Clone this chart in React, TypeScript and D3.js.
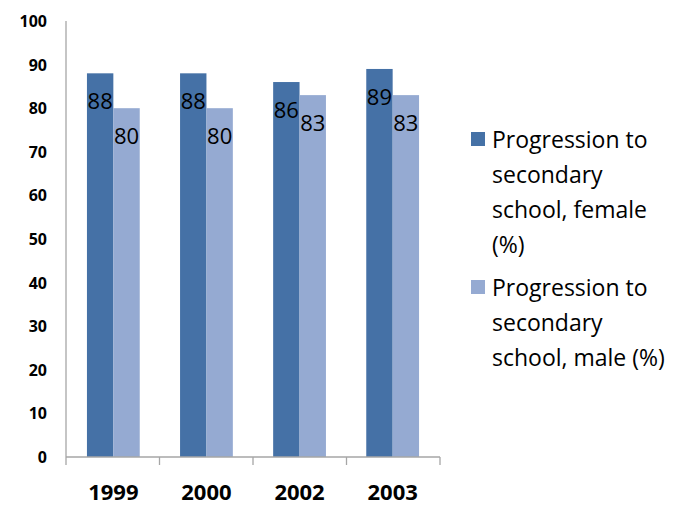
import React from "react";
import * as d3 from "d3";

const categories = ["1999", "2000", "2002", "2003"];
const femaleValues = [88, 88, 86, 89];
const maleValues = [80, 80, 83, 83];
const yTicks = [0, 10, 20, 30, 40, 50, 60, 70, 80, 90, 100];
const seriesNames = [
  ["Progression to", "secondary", "school, female", "(%)"],
  ["Progression to", "secondary", "school, male (%)"],
];
const seriesColors = ["#4571A6", "#95AAD2"];

const W = 689;
const H = 506;
const left = 66;
const right = 440;
const top = 21;
const bottom = 457;
const font = "'Open Sans', 'DejaVu Sans', sans-serif";

export default function App() {
  const x = d3
    .scaleBand<string>()
    .domain(categories)
    .range([left, right])
    .paddingInner(0.433)
    .paddingOuter(0.225);
  const sub = d3
    .scaleBand<string>()
    .domain(["female", "male"])
    .range([0, x.bandwidth()]);
  const y = d3.scaleLinear().domain([0, 100]).range([bottom, top]);

  const step = (right - left) / categories.length;
  const tickXs = d3.range(categories.length + 1).map((i) => left + i * step);

  const series = [
    { key: "female", values: femaleValues, color: seriesColors[0] },
    { key: "male", values: maleValues, color: seriesColors[1] },
  ];

  return (
    <svg
      width={W}
      height={H}
      style={{ position: "absolute", left: 0, top: 0, background: "#fff" }}
      fontFamily={font}
    >
      {/* bars */}
      {series.map((s) =>
        categories.map((c, i) => (
          <rect
            key={s.key + c}
            x={(x(c) as number) + (sub(s.key) as number)}
            y={y(s.values[i])}
            width={sub.bandwidth()}
            height={bottom - y(s.values[i])}
            fill={s.color}
          />
        ))
      )}
      {/* value labels */}
      {series.map((s) =>
        categories.map((c, i) => (
          <text
            key={"l" + s.key + c}
            x={(x(c) as number) + (sub(s.key) as number) + sub.bandwidth() / 2}
            y={y(s.values[i]) + 27}
            dominantBaseline="central"
            textAnchor="middle"
            fontSize={22}
            fill="#000"
          >
            {s.values[i]}
          </text>
        ))
      )}
      {/* axes */}
      <line x1={left} x2={left} y1={top} y2={bottom} stroke="#A6A6A6" strokeWidth={1.3} />
      <line x1={left} x2={right} y1={bottom} y2={bottom} stroke="#A6A6A6" strokeWidth={1.3} />
      {tickXs.map((tx, i) => (
        <line key={"t" + i} x1={tx} x2={tx} y1={bottom} y2={bottom + 8} stroke="#A6A6A6" strokeWidth={1.3} />
      ))}
      {yTicks.map((t) => (
        <text
          key={"y" + t}
          x={47}
          y={y(t)}
          dominantBaseline="central"
          textAnchor="end"
          fontSize={16}
          fontWeight="bold"
          fill="#000"
        >
          {t}
        </text>
      ))}
      {categories.map((c) => (
        <text
          key={"x" + c}
          x={(x(c) as number) + x.bandwidth() / 2}
          y={491}
          dominantBaseline="central"
          textAnchor="middle"
          fontSize={22}
          fontWeight="bold"
          fill="#000"
        >
          {c}
        </text>
      ))}
      {/* legend */}
      {seriesNames.map((lines, si) => {
        const y0 = si === 0 ? 139 : 287;
        return (
          <g key={"lg" + si}>
            <rect x={471} y={y0 - 7} width={14} height={14} fill={seriesColors[si]} />
            {lines.map((ln, li) => (
              <text
                key={li}
                x={492}
                y={y0 + li * 35}
                dominantBaseline="central"
                fontSize={23}
                fill="#000"
              >
                {ln}
              </text>
            ))}
          </g>
        );
      })}
    </svg>
  );
}
